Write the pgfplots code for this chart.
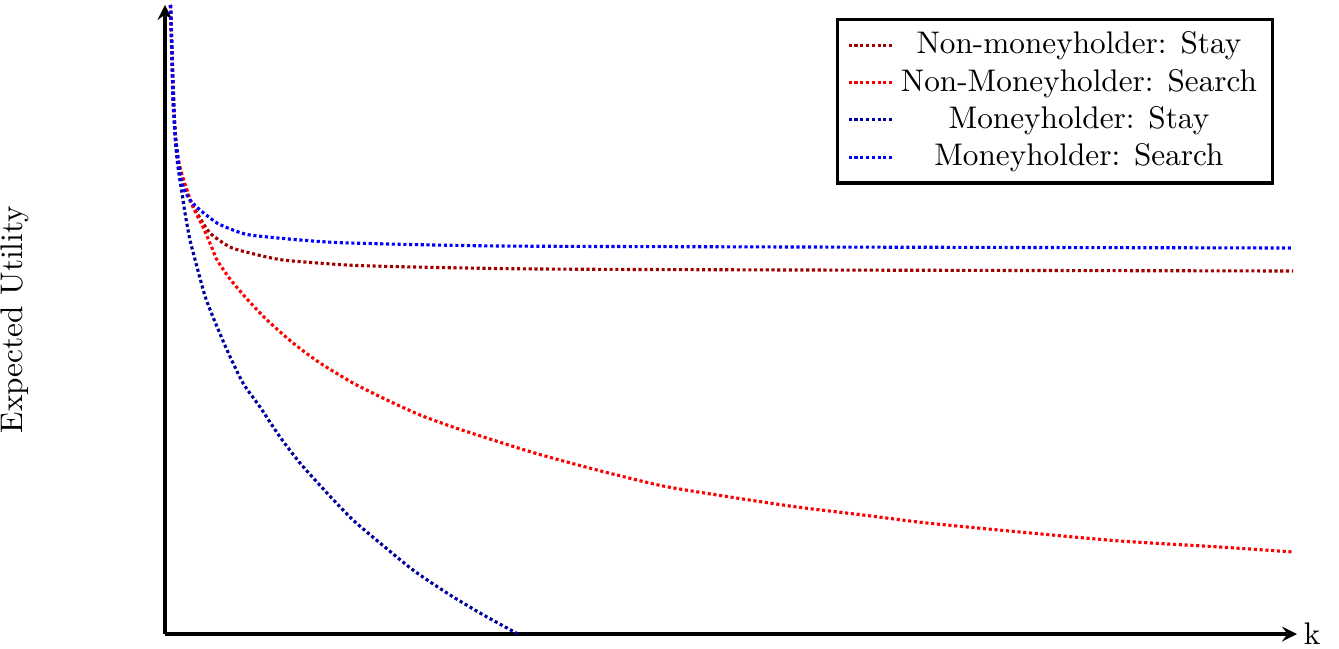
\documentclass[border=0pt]{standalone}
\usepackage{pgfplots}
\pgfplotsset{compat=1.18}
\definecolor{dred}{RGB}{160,0,0}
\definecolor{dblue}{RGB}{0,0,160}
\begin{document}
\begin{tikzpicture}
\begin{axis}[
  x=0.32pt, y=0.32pt,
  xmin=165, xmax=1297, ymin=0, ymax=629,
  axis lines=left,
  axis line style={line width=1.1pt, -stealth},
  xtick=\empty, ytick=\empty,
  clip=false,
  xlabel={k},
  xlabel style={at={(axis description cs:1,0)}, anchor=west, inner sep=2pt},
  ylabel={Expected Utility},
  ylabel style={at={(axis description cs:0,0.5)}, anchor=south, yshift=40pt},
  legend style={draw=black, line width=1.1pt, at={(0.98,0.98)}, anchor=north east, cells={anchor=center}, row sep=-0.6pt},
  legend image code/.code={\draw[mark repeat=2,mark phase=2] plot coordinates {(0cm,0cm) (0.25cm,0cm) (0.5cm,0cm)};},
  every axis plot/.append style={line width=1pt, dash pattern=on 1pt off 0.85pt, smooth, tension=0.4},
]
\coordinate (bbA) at (axis cs:0,-14);
\coordinate (bbB) at (axis cs:1339,634);
\addplot[dred] coordinates {
(170.5,629) (173,534) (178,474) (183,454) (190,434) (197,421) (210,401) (230,387) (250,381) (283,374) (347,369) (413,367) (540,365) (800,364) (1293,363)
};
\addlegendentry{Non-moneyholder: Stay}
\addplot[red] coordinates {
(170.5,629) (175,501) (180,467) (187,444) (193,427) (203,407) (212,386) (217,374) (230,355) (247,335) (267,314) (293,291) (320,271) (353,251) (387,234) (420,219) (453,207) (493,194) (538,180) (597,164) (663,148) (730,137) (797,127) (863,119) (927,111) (1020,102) (1120,93) (1220,87) (1293,82)
};
\addlegendentry{Non-Moneyholder: Search}
\addplot[dblue] coordinates {
(170.5,629) (175,501) (178,467) (182,441) (185,421) (190,394) (197,367) (205,338) (213,317) (227,284) (243,251) (260,227) (280,197) (300,171) (327,141) (353,114) (380,91) (413,64) (447,41) (480,21) (518,0)
};
\addlegendentry{Moneyholder: Stay}
\addplot[blue] coordinates {
(170.5,629) (172,584) (173,534) (175,501) (177,484) (180,461) (183,447) (190,434) (200,424) (217,411) (233,404) (250,399) (300,394) (350,391) (500,388) (800,387) (1293,386)
};
\addlegendentry{Moneyholder: Search}
\end{axis}
\pgfresetboundingbox
\path[use as bounding box] (bbA) rectangle (bbB);
\end{tikzpicture}
\end{document}
